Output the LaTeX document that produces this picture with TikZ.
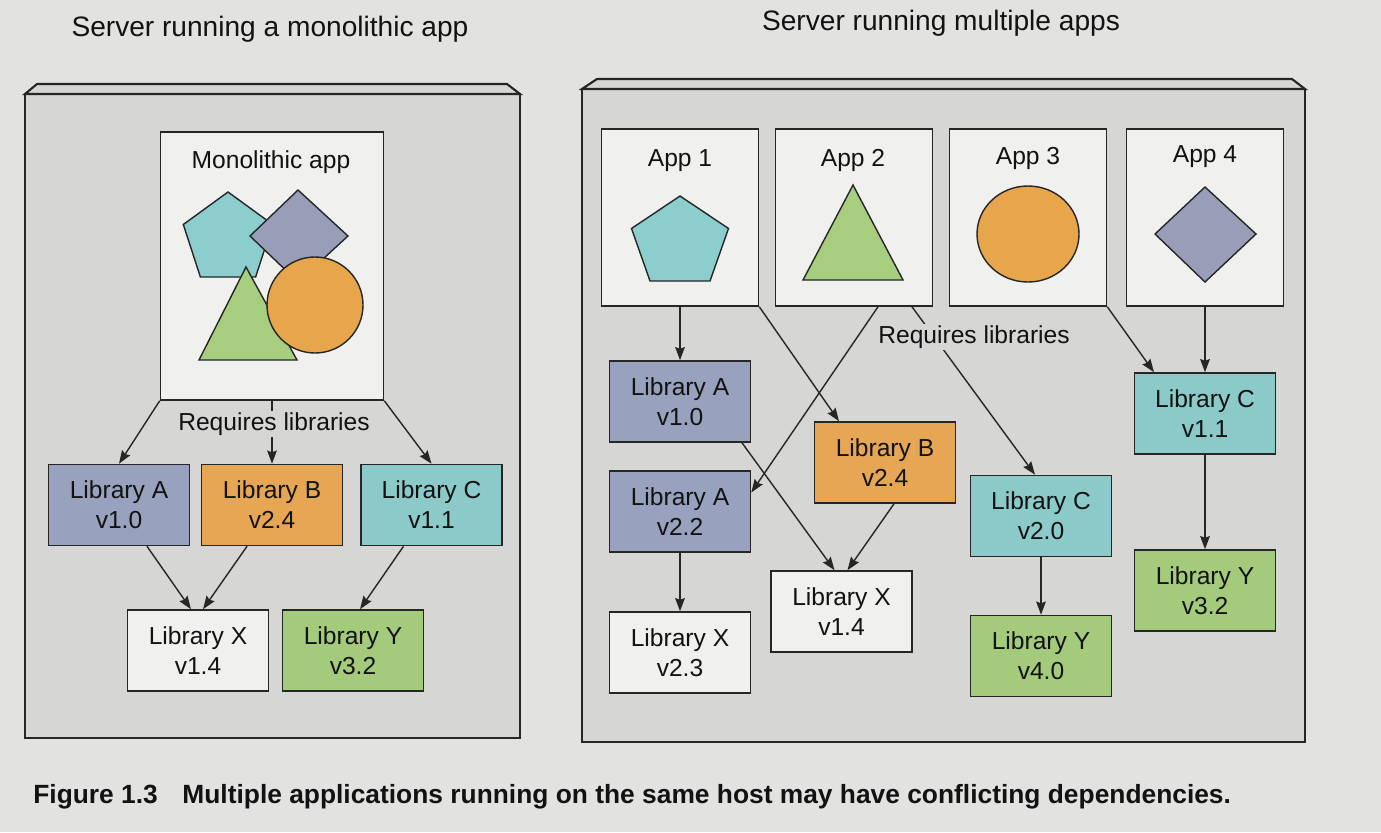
\documentclass[tikz,border=0pt]{standalone}
\usepackage{fontspec}
\setmainfont{Liberation Sans}
\usetikzlibrary{arrows.meta,calc}

\definecolor{pagebg}{RGB}{226,226,224}
\definecolor{srvbg}{RGB}{214,214,212}
\definecolor{boxwhite}{RGB}{240,240,238}
\definecolor{linecol}{RGB}{38,38,38}
\definecolor{txtcol}{RGB}{18,18,18}
\definecolor{libblue}{RGB}{152,162,190}
\definecolor{liborange}{RGB}{230,166,84}
\definecolor{libteal}{RGB}{140,202,202}
\definecolor{libgreen}{RGB}{164,202,124}
\definecolor{shpteal}{RGB}{140,205,205}
\definecolor{shpgray}{RGB}{152,158,184}
\definecolor{shporange}{RGB}{232,166,76}
\definecolor{shpgreen}{RGB}{166,206,126}

\tikzset{
  server/.style={draw=linecol, line width=1.2pt, fill=srvbg},
  appbox/.style={draw=linecol, line width=0.9pt, fill=boxwhite, minimum width=3.14cm, minimum height=3.54cm, inner sep=0pt},
  lib/.style={draw=linecol, line width=0.9pt, minimum width=2.82cm, minimum height=1.62cm, align=center, inner sep=0pt, text=txtcol, font=\fontsize{14}{17}\selectfont},
  dep/.style={draw=linecol, line width=0.8pt, -{Stealth[length=7.5pt,width=5.5pt,inset=1pt]}},
  shp/.style={draw=linecol, line width=0.8pt},
  lbl/.style={text=txtcol, font=\fontsize{14}{17}\selectfont, inner sep=1pt},
  ttl/.style={text=txtcol, font=\fontsize{16}{19}\selectfont},
}

\begin{document}
\begin{tikzpicture}[x=0.02cm,y=-0.02cm]
    \fill[pagebg] (0,0) rectangle (1381,832);

    % monolithic server
    \node[ttl] (ttlmono) at (270,29) {Server running a monolithic app};
    \draw[server] (25,94) rectangle (520,738);
    \draw[server] (25,94) -- (37,84) -- (507,84) -- (520,94) -- cycle;

    \node[appbox, minimum width=4.46cm, minimum height=5.36cm] (mono) at (272,266) {};
    \node[lbl] (monolbl) at (271,162) {Monolithic app};
    \draw[shp, fill=shpteal] (228,192) -- (272.7,224.5) -- (255.6,277) -- (200.4,277) -- (183.3,224.5) -- cycle;
    \draw[shp, fill=shpgray] (298,190) -- (348,236) -- (298,282) -- (250,236) -- cycle;
    \draw[shp, fill=shpgreen] (246,267) -- (297,360) -- (199,360) -- cycle;
    \draw[shp, fill=shporange] (315,305) circle (48);

    \node[lib, fill=libblue] (libA) at (119,505) {Library A\\v1.0};
    \node[lib, fill=liborange] (libB) at (272,505) {Library B\\v2.4};
    \node[lib, fill=libteal] (libC) at (431.5,505) {Library C\\v1.1};
    \node[lib, fill=boxwhite] (libX) at (198,650.5) {Library X\\v1.4};
    \node[lib, fill=libgreen] (libY) at (353,650.5) {Library Y\\v3.2};

    \draw[dep] (mono.south west) -- (libA.north);
    \draw[dep] (mono.south) -- (libB.north);
    \draw[dep] (mono.south east) -- (libC.north);
    \node[lbl, fill=srvbg] (monoreq) at (274,424) {Requires libraries};
    \draw[dep] ($(libA.south)+(28,0)$) -- ($(libX.north)+(-7,0)$);
    \draw[dep] ($(libB.south)+(-25,0)$) -- ($(libX.north)+(5,0)$);
    \draw[dep] ($(libC.south)+(-28,0)$) -- ($(libY.north)+(7,0)$);

    % server with several apps
    \node[ttl] (ttlmulti) at (941,23) {Server running multiple apps};
    \draw[server] (582,89) rectangle (1305,742);
    \draw[server] (582,89) -- (597,79) -- (1292,79) -- (1305,89) -- cycle;

    \node[appbox] (app1) at (680,217.5) {};
    \node[appbox] (app2) at (854,217.5) {};
    \node[appbox] (app3) at (1028,217.5) {};
    \node[appbox] (app4) at (1205,217.5) {};
    \node[lbl] (app1lbl) at (680,161) {App 1};
    \node[lbl] (app2lbl) at (853,160) {App 2};
    \node[lbl] (app3lbl) at (1028,158) {App 3};
    \node[lbl] (app4lbl) at (1205,157) {App 4};
    \draw[shp, fill=shpteal] (680,196) -- (728.5,228.5) -- (710,281) -- (650,281) -- (631.5,228.5) -- cycle;
    \draw[shp, fill=shpgreen] (853,185) -- (903,280) -- (803,280) -- cycle;
    \draw[shp, fill=shporange] (1028,234) ellipse (51 and 48);
    \draw[shp, fill=shpgray] (1205,187) -- (1256,234) -- (1205,282) -- (1155,234) -- cycle;

    \node[lib, fill=libblue] (libA1) at (680,401.5) {Library A\\v1.0};
    \node[lib, fill=libblue] (libA2) at (680,511.5) {Library A\\v2.2};
    \node[lib, fill=boxwhite] (libX23) at (680,652.5) {Library X\\v2.3};
    \node[lib, fill=liborange] (libB24) at (885,462.5) {Library B\\v2.4};
    \node[lib, fill=boxwhite] (libX14) at (841.5,611.5) {Library X\\v1.4};
    \node[lib, fill=libteal] (libC20) at (1041,516) {Library C\\v2.0};
    \node[lib, fill=libgreen] (libY40) at (1041,656) {Library Y\\v4.0};
    \node[lib, fill=libteal] (libC11) at (1205,413.5) {Library C\\v1.1};
    \node[lib, fill=libgreen] (libY32) at (1205,590.5) {Library Y\\v3.2};

    \draw[dep] (app1.south) -- (libA1.north);
    \draw[dep] (app1.south east) -- ($(libB24.north)+(-46,0)$);
    \draw[dep] ($(app2.south)+(24,0)$) -- ($(libA2.east)+(0,-19)$);
    \draw[dep] ($(app2.south)+(58,0)$) -- ($(libC20.north)+(-6,0)$);
    \draw[dep] (app3.south east) -- ($(libC11.north)+(-51,0)$);
    \draw[dep] (app4.south) -- (libC11.north);
    \node[lbl, fill=srvbg] (multireq) at (974,337) {Requires libraries};
    \draw[dep] ($(libA1.south)+(62,0)$) -- ($(libX14.north)+(-7,0)$);
    \draw[dep] ($(libB24.south)+(9,0)$) -- ($(libX14.north)+(6,0)$);
    \draw[dep] (libA2.south) -- (libX23.north);
    \draw[dep] (libC20.south) -- (libY40.north);
    \draw[dep] (libC11.south) -- (libY32.north);

    \node[anchor=west, text=txtcol, font=\fontsize{15}{18}\selectfont\bfseries, inner sep=0pt] (caption) at (33,797) {Figure 1.3\hspace{14pt}Multiple applications running on the same host may have conflicting dependencies.};
\end{tikzpicture}
\end{document}
